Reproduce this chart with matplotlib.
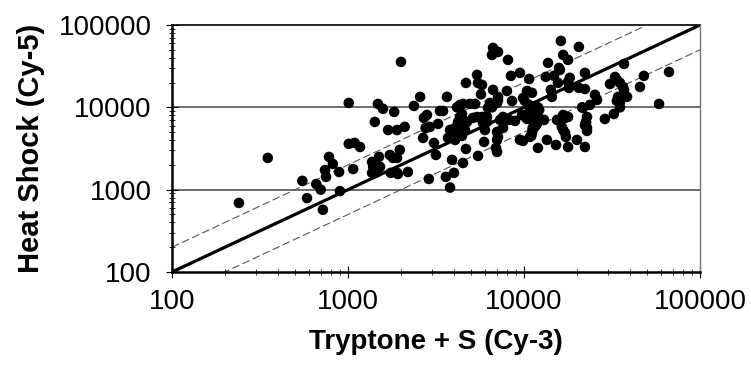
import matplotlib
matplotlib.use("Agg")
import matplotlib.pyplot as plt
from matplotlib import font_manager
from matplotlib.ticker import LogLocator, NullFormatter, FixedLocator, FixedFormatter
import numpy as np

# ---- data ----
tryptone = [
    240, 350, 550, 585, 660, 700, 720, 740, 750, 780, 820, 890, 900, 1010, 1010, 1090, 1070, 1170,
    1370, 1390, 1370, 1420, 1460, 1500, 1520, 1730, 1800, 1900, 1970, 1750, 1900, 1920, 2190, 2880,
    3600, 4000, 3800, 2000, 1480, 1580, 1830, 2370, 2570, 3650, 1420, 1690, 1900, 2100, 2700, 2810,
    2670, 2920, 2760, 3250, 3330, 3470, 3080, 3160,
    3800, 3900, 4060, 4160, 4330, 4060, 3700, 4440, 4220, 4620, 3900, 4500, 4680, 5480,
    4680, 5410, 5480, 5770, 5700, 6670, 7120, 6580, 8110, 8430, 9490, 6670, 8000, 8550, 7120, 7120,
    4330, 4500, 4930, 5270, 4160, 4440, 4330, 4500, 4220, 4740, 5130, 5410, 5770, 6160, 6240, 6580,
    6410, 5850, 6160, 6000, 6670, 7030, 7310, 7600, 7600, 7030, 7120, 7030, 5930, 6930, 7030, 8220,
    8890, 9740, 10000, 10400,
    16200, 20500, 16700, 17800, 13700, 15800, 13300, 14800, 16000, 10700, 22200, 10400, 11100, 14200,
    15600, 18000, 20500, 22200, 18200, 17800, 9870, 10100, 10700, 10800, 11100, 12000, 12200, 11200,
    12000, 11900, 11500, 11700, 13000, 9490, 9870, 10800, 11200, 11200, 11100, 12000, 13500, 15200,
    15400, 16700, 17100, 17800, 16400, 16700, 17100, 17300, 17800, 20000, 22200, 22200, 22800, 22500,
    21400, 22800, 14400, 11000, 22800,
    37000, 48000, 66700, 58500, 45600, 32900, 33700, 35100, 36500, 37000, 30800, 38500, 34200, 33700,
    35100, 28800, 32400, 25300, 26000, 23700, 21600, 22500, 35100,
]
heat_shock = [
    690, 2430, 1280, 790, 1170, 1000, 570, 1730, 1430, 2500, 2050, 1640, 960, 11300, 3600, 3700, 1780, 3300,
    2170, 1890, 1600, 1600, 1640, 2500, 1890, 2640, 2430, 2430, 3040, 1600, 1600, 1550, 1640, 1350,
    1430, 1600, 1060, 35600, 11000, 9600, 8800, 10400, 13400, 13400, 6650, 5300, 5300, 5800, 7430, 8090,
    4250, 5780, 5600, 6290, 9040, 9040, 3690, 2640,
    5310, 4620, 5620, 4890, 5620, 4020, 4250, 4490, 6110, 5310, 2300, 2110, 3120, 2570,
    19800, 24800, 19800, 18700, 14400, 52700, 47100, 43300, 37700, 24100, 26200, 16300, 15800, 11950, 13400, 12300,
    10700, 11000, 11000, 11000, 10000, 8310, 7640, 7030, 6650, 6650, 7430, 7640, 7640, 7640, 9840, 10000,
    11300, 6460, 6650, 5310, 10700, 11300, 7030, 7640, 5620, 5030, 4370, 4020, 3800, 3210, 2870, 7030,
    6840, 8090, 7860, 7230,
    64100, 54200, 43300, 37700, 34600, 30100, 23400, 24100, 28500, 22100, 26200, 15800, 15000, 16300,
    19800, 17200, 17200, 16700, 22800, 20400, 13000, 12000, 10700, 9560, 8550, 10000, 9300, 7030,
    7640, 6460, 5780, 6060, 7030, 4020, 3910, 4370, 5620, 5310, 4890, 3210, 4020, 3490,
    7030, 8090, 7430, 7640, 5780, 5310, 4890, 4370, 3300, 4020, 3300, 6060, 5620, 6650,
    10000, 7640, 13400, 4490, 5170,
    33700, 24100, 26900, 11000, 17700, 23400, 21500, 19800, 17700, 16300, 19200, 13400, 13400, 12000,
    10000, 7230, 8310, 14200, 12300, 10700, 9840, 6460, 11600,
]
axis_limits = [100, 100000]
tick_values = [100, 1000, 10000, 100000]
tick_labels = ["100", "1000", "10000", "100000"]
ref_ratios = [1.0, 2.0, 0.5]   # y = x, y = 2x, y = x/2

# ---- fonts ----
available = {f.name for f in font_manager.fontManager.ttflist}
base_font = "Liberation Sans" if "Liberation Sans" in available else "DejaVu Sans"
narrow_font = "Liberation Sans Narrow" if "Liberation Sans Narrow" in available else base_font
plt.rcParams["font.family"] = [base_font, "DejaVu Sans"]

fig = plt.figure(figsize=(7.51, 3.79), dpi=100)
ax = fig.add_axes([172 / 751, 1 - 272 / 379, 528 / 751, 247 / 379])
ax.set_xscale("log")
ax.set_yscale("log")
ax.set_xlim(axis_limits)
ax.set_ylim(axis_limits)

# gridlines at decades
for v in tick_values[1:3]:
    ax.axhline(v, color="#444444", lw=1.1, zorder=1)
ax.axhline(tick_values[-1], color="#222222", lw=1.4, zorder=1, clip_on=False)

# reference lines
xs = np.array(axis_limits, dtype=float)
ax.plot(xs, xs * ref_ratios[0], color="black", lw=2.3, zorder=3, solid_capstyle="butt")
for r in ref_ratios[1:]:
    ax.plot(xs, xs * r, color="#555555", lw=0.8, dashes=(7, 3), zorder=2)

ax.scatter(tryptone, heat_shock, s=58, color="black", edgecolors="none", zorder=4)

# spines
ax.spines["left"].set_linewidth(1.8)
ax.spines["bottom"].set_linewidth(1.8)
ax.spines["top"].set_visible(False)
ax.spines["right"].set_color("#777777")
ax.spines["right"].set_linewidth(1.0)

for axis in (ax.xaxis, ax.yaxis):
    axis.set_major_locator(FixedLocator(tick_values))
    axis.set_major_formatter(FixedFormatter(tick_labels))
    axis.set_minor_locator(LogLocator(base=10, subs=np.arange(2, 10), numticks=20))
    axis.set_minor_formatter(NullFormatter())

ax.tick_params(axis="both", which="major", direction="inout", length=9, width=0.8,
               labelsize=20, colors="black")
ax.tick_params(axis="both", which="minor", direction="inout", length=5, width=0.6)
ax.tick_params(axis="x", which="major", pad=8)
ax.tick_params(axis="y", which="major", pad=10)

ax.set_xlabel("Tryptone + S (Cy-3)", fontsize=20, fontweight="bold",
              family=[narrow_font, "DejaVu Sans"], labelpad=10)
ax.set_ylabel("Heat Shock (Cy-5)", fontsize=21, fontweight="bold", labelpad=10)

fig.savefig("out.png", dpi=100)
